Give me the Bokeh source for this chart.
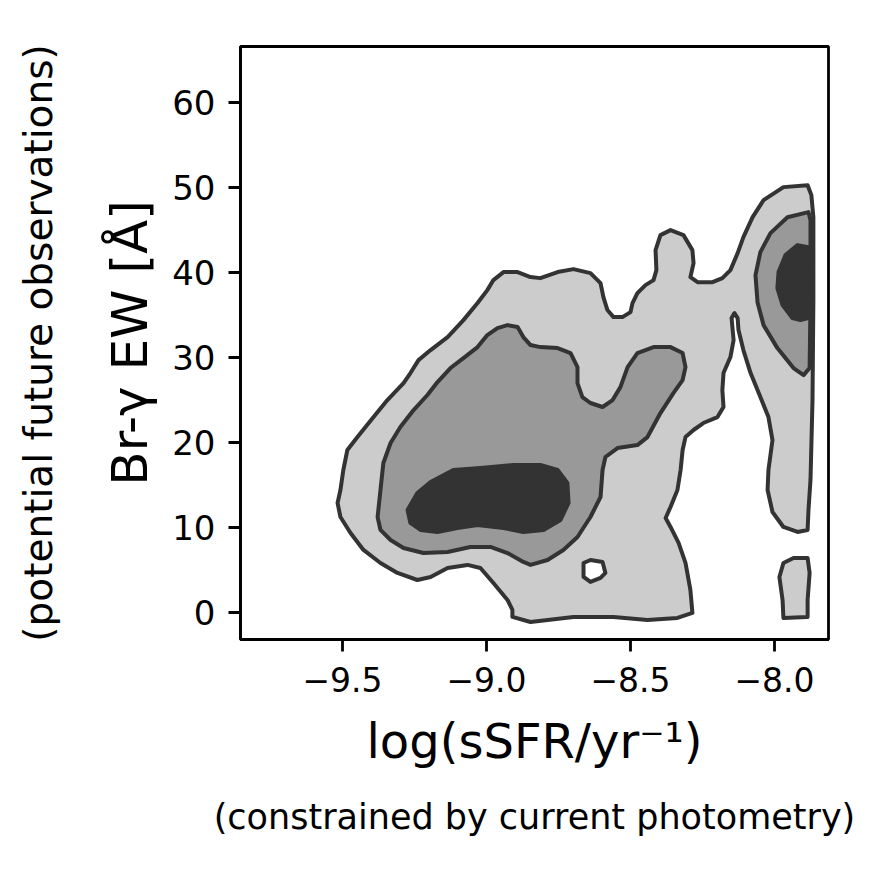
from bokeh.plotting import figure
from bokeh.models import Range1d, FixedTicker, LinearAxis, CustomJSTickFormatter
from bokeh.embed import file_html
from bokeh.resources import INLINE

# ---- contour outlines (data units: x = log sSFR, y = Br-gamma EW) ----
light_main_x = [-9.517, -9.507, -9.497, -9.483, -9.448, -9.392, -9.344, -9.288, -9.264, -9.236,
                -9.194, -9.135, -9.080, -9.031, -8.997, -8.976, -8.941, -8.892, -8.847, -8.813,
                -8.753, -8.698, -8.639, -8.604, -8.594, -8.580, -8.559, -8.528, -8.500, -8.493,
                -8.476, -8.448, -8.420, -8.410, -8.413, -8.396, -8.361, -8.316, -8.285, -8.281,
                -8.292, -8.267, -8.215, -8.181, -8.153, -8.128, -8.108, -8.076, -8.038, -7.969,
                -7.885, -7.872, -7.865, -7.865, -7.868, -7.875, -7.882, -7.885, -7.920, -7.969,
                -8.007, -8.024, -8.021, -8.007, -8.021, -8.049, -8.083, -8.108, -8.125, -8.128,
                -8.139, -8.149, -8.142, -8.153, -8.177, -8.181, -8.177, -8.198, -8.247, -8.281,
                -8.309, -8.319, -8.326, -8.337, -8.361, -8.378, -8.361, -8.333, -8.309, -8.292,
                -8.285, -8.337, -8.441, -8.559, -8.698, -8.847, -8.910, -8.910, -8.927, -8.976,
                -9.021, -9.066, -9.135, -9.194, -9.240, -9.309, -9.368, -9.427, -9.472, -9.507]
light_main_y = [12.92, 14.44, 16.79, 19.14, 20.66, 23.01, 25.01, 27.00, 28.18, 29.70,
                30.88, 32.41, 34.40, 36.40, 37.92, 39.10, 40.04, 40.04, 39.45, 39.33,
                40.04, 40.39, 39.92, 38.75, 37.10, 35.58, 34.75, 34.75, 35.34, 36.40,
                37.57, 38.51, 39.10, 40.27, 42.62, 44.38, 44.97, 44.38, 42.62, 41.09,
                39.45, 38.86, 38.86, 39.33, 40.27, 42.27, 44.15, 46.49, 48.49, 50.02,
                50.25, 49.08, 46.49, 36.75, 25.01, 15.62, 12.09, 9.75, 9.51, 10.10,
                11.86, 14.44, 16.79, 20.31, 23.01, 25.36, 28.18, 30.88, 33.23, 34.64,
                35.22, 34.64, 32.05, 30.06, 28.18, 26.18, 24.19, 23.01, 22.31, 21.49,
                20.66, 19.14, 16.79, 14.44, 12.45, 11.15, 10.10, 8.22, 5.87, 2.70,
                0.00, -0.59, -0.82, -0.47, -0.47, -1.06, -0.47, 0.35, 1.53, 3.52,
                5.28, 5.64, 5.28, 4.23, 3.87, 4.70, 5.87, 7.40, 9.39, 11.27]

light_hole_x = [-8.663, -8.639, -8.597, -8.587, -8.604, -8.639, -8.663]
light_hole_y = [5.87, 6.22, 5.99, 4.70, 4.11, 3.64, 4.23]

light_small_x = [-7.983, -7.969, -7.934, -7.885, -7.878, -7.885, -7.885, -7.969, -7.972]
light_small_y = [4.23, 5.87, 6.46, 6.46, 4.70, 1.53, -0.47, -0.59, 1.53]

mid_main_x = [-9.378, -9.368, -9.358, -9.333, -9.299, -9.253, -9.205, -9.170, -9.125, -9.080,
              -9.031, -8.997, -8.962, -8.927, -8.892, -8.872, -8.847, -8.813, -8.753, -8.708,
              -8.684, -8.684, -8.667, -8.639, -8.597, -8.562, -8.535, -8.510, -8.476, -8.420,
              -8.361, -8.319, -8.309, -8.319, -8.351, -8.396, -8.441, -8.476, -8.545, -8.587,
              -8.597, -8.604, -8.639, -8.684, -8.733, -8.788, -8.847, -8.872, -8.927, -8.986,
              -9.056, -9.135, -9.219, -9.288, -9.333, -9.368]
mid_main_y = [11.27, 14.44, 17.61, 19.96, 21.84, 23.83, 25.60, 27.12, 28.77, 29.94,
              31.23, 32.64, 33.46, 33.81, 33.58, 32.41, 31.47, 31.23, 31.11, 30.53,
              28.88, 27.00, 25.36, 24.66, 24.19, 25.01, 26.53, 28.88, 30.53, 31.23,
              31.23, 30.53, 28.88, 27.36, 25.83, 23.48, 20.66, 19.72, 19.37, 18.32,
              16.79, 13.62, 11.27, 8.92, 7.40, 6.22, 5.64, 5.99, 7.04, 7.75,
              7.75, 7.16, 7.04, 7.63, 8.57, 9.75]

mid_right_x = [-7.882, -7.955, -8.014, -8.049, -8.066, -8.059, -8.038, -7.990, -7.934, -7.899,
               -7.878, -7.875, -7.875]
mid_right_y = [47.08, 46.49, 44.62, 42.39, 39.68, 36.51, 33.81, 31.11, 28.77, 27.94,
               28.77, 36.75, 46.14]

dark_main_x = [-9.274, -9.240, -9.194, -9.115, -9.021, -8.906, -8.813, -8.753, -8.719, -8.715,
               -8.743, -8.802, -8.872, -8.941, -9.031, -9.101, -9.170, -9.229, -9.264]
dark_main_y = [12.09, 14.09, 15.38, 16.79, 17.02, 17.38, 17.38, 16.79, 15.26, 12.92,
               10.92, 9.75, 9.51, 9.98, 10.33, 9.98, 9.51, 9.75, 10.57]

dark_right_x = [-7.882, -7.920, -7.962, -7.986, -7.990, -7.972, -7.938, -7.910, -7.882]
dark_right_y = [42.97, 43.21, 42.03, 40.04, 38.16, 36.16, 34.64, 34.40, 34.64]

x_ticks = [-9.5, -9.0, -8.5, -8.0]
y_ticks = [0, 10, 20, 30, 40, 50, 60]

x_title = "log(sSFR/yr\u207b\u00b9)"
y_title = "Br-\u03b3 EW [\u00c5]"
x_note = "(constrained by current photometry)"
y_note = "(potential future observations)"

FONT = "DejaVu Sans"
LINE = "#333333"

p = figure(width=860, height=860,
           x_range=Range1d(-9.854, -7.8125), y_range=Range1d(-3.12, 66.54),
           output_backend="svg", toolbar_location=None,
           min_border_left=240, min_border_right=32,
           min_border_top=46, min_border_bottom=221)
p.xgrid.visible = False
p.ygrid.visible = False
p.outline_line_color = "black"
p.outline_line_width = 2.8
p.background_fill_color = "white"
p.border_fill_color = "white"

kw = dict(line_color=LINE, line_width=4, line_join="round")
p.patches(xs=[light_main_x, light_small_x], ys=[light_main_y, light_small_y],
          fill_color="#cccccc", **kw)
p.patches(xs=[light_hole_x], ys=[light_hole_y], fill_color="white", **kw)
p.patches(xs=[mid_main_x, mid_right_x], ys=[mid_main_y, mid_right_y],
          fill_color="#999999", **kw)
p.patches(xs=[dark_main_x, dark_right_x], ys=[dark_main_y, dark_right_y],
          fill_color="#333333", **kw)

def style_axis(ax, tick_size, label_size):
    ax.axis_line_width = 2.8
    ax.axis_line_color = "black"
    ax.major_tick_line_width = 2.8
    ax.major_tick_line_color = "black"
    ax.major_tick_in = 0
    ax.major_tick_out = 12
    ax.minor_tick_line_color = None
    ax.major_label_text_font = FONT
    ax.major_label_text_font_size = tick_size
    ax.major_label_text_color = "black"
    ax.axis_label_text_font = FONT
    ax.axis_label_text_font_style = "normal"
    ax.axis_label_text_color = "black"
    ax.axis_label_text_font_size = label_size

xa = p.xaxis[0]
style_axis(xa, "33px", "48px")
xa.ticker = FixedTicker(ticks=x_ticks)
xa.formatter = CustomJSTickFormatter(code="return tick.toFixed(1).replace('-', '\u2212');")
xa.axis_label = x_title
xa.major_label_standoff = 15
xa.axis_label_standoff = 18

ya = p.yaxis[0]
style_axis(ya, "34px", "50px")
ya.ticker = FixedTicker(ticks=y_ticks)
ya.axis_label = y_title
ya.major_label_standoff = 13
ya.axis_label_standoff = 10

def extra_axis(label, standoff, size):
    ax = LinearAxis(ticker=FixedTicker(ticks=[]), axis_label=label)
    ax.axis_line_color = None
    ax.major_tick_line_color = None
    ax.minor_tick_line_color = None
    ax.major_tick_in = 0
    ax.major_tick_out = 0
    ax.major_label_text_font_size = "0px"
    ax.axis_label_text_font = FONT
    ax.axis_label_text_font_style = "normal"
    ax.axis_label_text_color = "black"
    ax.axis_label_text_font_size = size
    ax.axis_label_standoff = standoff
    return ax

p.add_layout(extra_axis(x_note, 25, "35px"), "below")
p.add_layout(extra_axis(y_note, 38, "39px"), "left")

open("out.html", "w").write(file_html(p, INLINE))
